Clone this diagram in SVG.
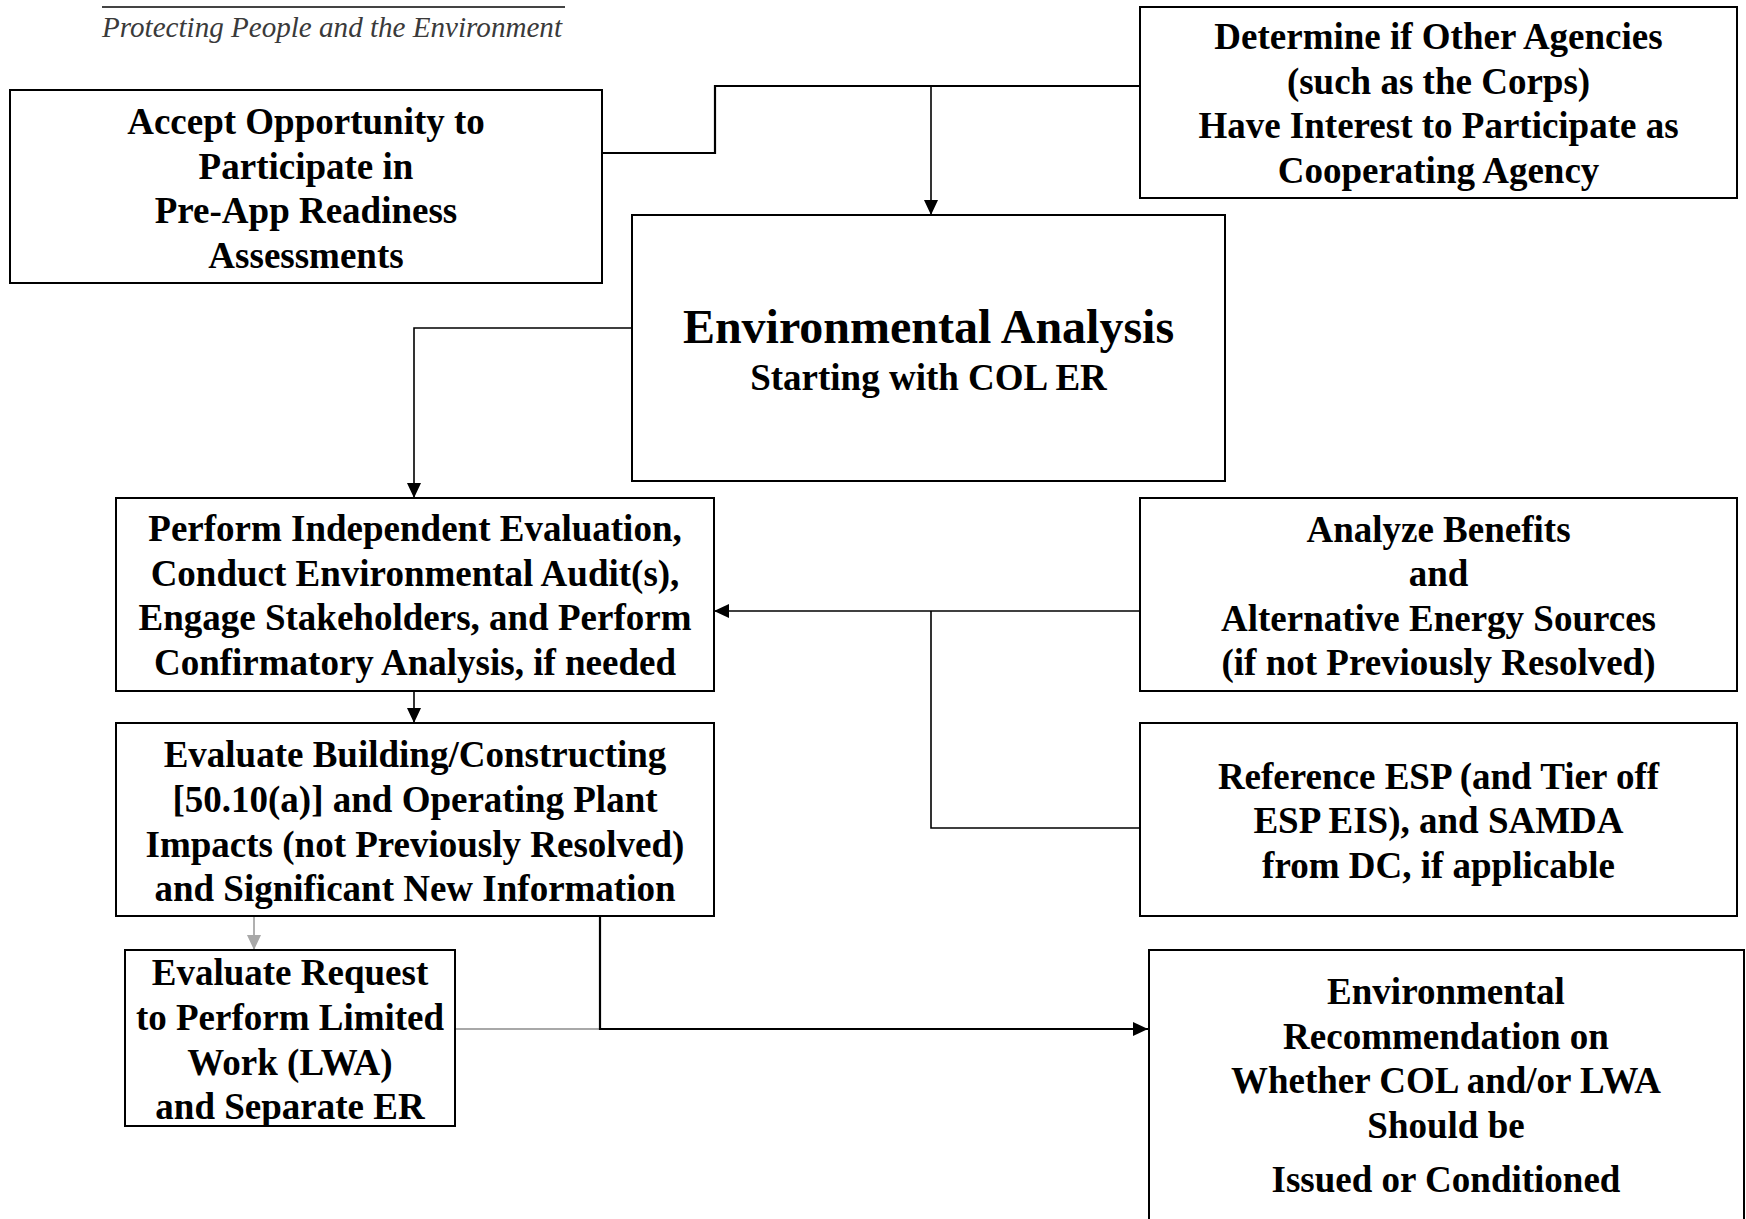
<svg xmlns="http://www.w3.org/2000/svg" width="1746" height="1219" viewBox="0 0 1746 1219">
<defs>
<style>
.box{fill:#fff;stroke:#000;stroke-width:2}
.t{font-family:"Liberation Serif","Times New Roman",serif;font-weight:bold;font-size:37px;fill:#000;text-anchor:middle}
.big{font-size:48px}
.ln{fill:none;stroke:#000;stroke-width:1.6}
.lnk{fill:none;stroke:#000;stroke-width:2.2}
.gr{fill:none;stroke:#a8a8a8;stroke-width:1.8}
.logo{font-family:"Liberation Serif","Times New Roman",serif;font-style:italic;font-size:30px;fill:#3a3a3a}
</style>
<marker id="ah" markerUnits="userSpaceOnUse" markerWidth="16" markerHeight="14" refX="15" refY="7" orient="auto">
<path d="M0,0 L15,7 L0,14 z" fill="#000"/>
</marker>
<marker id="ahg" markerUnits="userSpaceOnUse" markerWidth="16" markerHeight="14" refX="15" refY="7" orient="auto">
<path d="M0,0 L15,7 L0,14 z" fill="#a8a8a8"/>
</marker>
</defs>
<rect width="1746" height="1219" fill="#fff"/>

<g id="logo">
<line x1="102" y1="7" x2="565" y2="7" stroke="#444" stroke-width="2"/>
<text class="logo" x="102" y="37" textLength="460" lengthAdjust="spacingAndGlyphs">Protecting People and the Environment</text>
</g>

<g id="connectors">
<polyline class="lnk" points="602,153 715,153 715,86 1140,86"/>
<line class="ln" x1="931" y1="86" x2="931" y2="215" marker-end="url(#ah)"/>
<polyline class="ln" points="632,328 414,328 414,498" marker-end="url(#ah)"/>
<line class="ln" x1="414" y1="691" x2="414" y2="723" marker-end="url(#ah)"/>
<line class="ln" x1="1140" y1="611" x2="714" y2="611" marker-end="url(#ah)"/>
<polyline class="ln" points="931,611 931,828 1140,828"/>
<line class="gr" x1="254" y1="916" x2="254" y2="950" marker-end="url(#ahg)"/>
<line class="gr" x1="455" y1="1029" x2="600" y2="1029"/>
<polyline class="lnk" points="600,916 600,1029 1148,1029" marker-end="url(#ah)"/>
</g>

<g id="accept">
<rect class="box" x="10" y="90" width="592" height="193"/>
<text class="t" x="306" y="134">Accept Opportunity to</text>
<text class="t" x="306" y="178.5">Participate in</text>
<text class="t" x="306" y="223">Pre-App Readiness</text>
<text class="t" x="306" y="267.5">Assessments</text>
</g>

<g id="determine">
<rect class="box" x="1140" y="7" width="597" height="191"/>
<text class="t" x="1438.5" y="49">Determine if Other Agencies</text>
<text class="t" x="1438.5" y="93.5">(such as the Corps)</text>
<text class="t" x="1438.5" y="138">Have Interest to Participate as</text>
<text class="t" x="1438.5" y="182.5">Cooperating Agency</text>
</g>

<g id="envanalysis">
<rect class="box" x="632" y="215" width="593" height="266"/>
<text class="t big" x="928.5" y="343">Environmental Analysis</text>
<text class="t" x="928.5" y="390">Starting with COL ER</text>
</g>

<g id="perform">
<rect class="box" x="116" y="498" width="598" height="193"/>
<text class="t" x="415" y="541">Perform Independent Evaluation,</text>
<text class="t" x="415" y="585.5">Conduct Environmental Audit(s),</text>
<text class="t" x="415" y="630">Engage Stakeholders, and Perform</text>
<text class="t" x="415" y="674.5">Confirmatory Analysis, if needed</text>
</g>

<g id="evaluate">
<rect class="box" x="116" y="723" width="598" height="193"/>
<text class="t" x="415" y="767">Evaluate Building/Constructing</text>
<text class="t" x="415" y="812">[50.10(a)] and Operating Plant</text>
<text class="t" x="415" y="856.5">Impacts (not Previously Resolved)</text>
<text class="t" x="415" y="901">and Significant New Information</text>
</g>

<g id="lwa">
<rect class="box" x="125" y="950" width="330" height="176"/>
<text class="t" x="290" y="985">Evaluate Request</text>
<text class="t" x="290" y="1030">to Perform Limited</text>
<text class="t" x="290" y="1075">Work (LWA)</text>
<text class="t" x="290" y="1119">and Separate ER</text>
</g>

<g id="analyze">
<rect class="box" x="1140" y="498" width="597" height="193"/>
<text class="t" x="1438.5" y="541.5">Analyze Benefits</text>
<text class="t" x="1438.5" y="586">and</text>
<text class="t" x="1438.5" y="630.5">Alternative Energy Sources</text>
<text class="t" x="1438.5" y="675">(if not Previously Resolved)</text>
</g>

<g id="reference">
<rect class="box" x="1140" y="723" width="597" height="193"/>
<text class="t" x="1438.5" y="788.5">Reference ESP (and Tier off</text>
<text class="t" x="1438.5" y="833">ESP EIS), and SAMDA</text>
<text class="t" x="1438.5" y="877.5">from DC, if applicable</text>
</g>

<g id="recommendation">
<rect class="box" x="1149" y="950" width="595" height="290"/>
<text class="t" x="1446" y="1004">Environmental</text>
<text class="t" x="1446" y="1049">Recommendation on</text>
<text class="t" x="1446" y="1093">Whether COL and/or LWA</text>
<text class="t" x="1446" y="1138">Should be</text>
<text class="t" x="1446" y="1192">Issued or Conditioned</text>
</g>
</svg>
